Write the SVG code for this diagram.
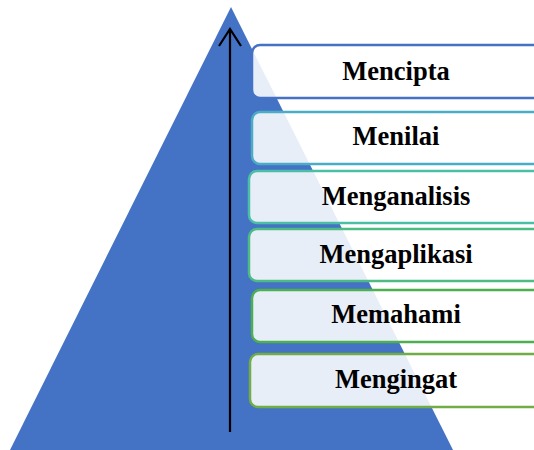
<svg xmlns="http://www.w3.org/2000/svg" width="534" height="450" viewBox="0 0 534 450">
<defs>
<style>
.box{fill:#ffffff;fill-opacity:0.88;stroke-width:2.5}
.lbl{font-family:"Liberation Serif","Times New Roman",serif;font-weight:bold;font-size:26.5px;fill:#000;text-anchor:middle}
</style>
<marker id="arr" viewBox="0 0 20 24" refX="18" refY="12" markerWidth="20" markerHeight="24" markerUnits="userSpaceOnUse" orient="auto">
<path d="M1,1 L18,12 L1,23" fill="none" stroke="#000" stroke-width="2.2"/>
</marker>
</defs>
<g id="pyramid"><polygon points="231,7 10,450 453,450" fill="#4472C4"/></g>
<g id="connectors"><line x1="230" y1="432" x2="230" y2="29" stroke="#000" stroke-width="2.2" marker-end="url(#arr)"/></g>
<g id="mencipta"><rect class="box" x="252" y="45" width="300" height="53" rx="8" stroke="#4472C4"/><text class="lbl" x="396" y="80">Mencipta</text></g>
<g id="menilai"><rect class="box" x="252" y="112" width="300" height="52" rx="8" stroke="#4BACC6"/><text class="lbl" x="396" y="145">Menilai</text></g>
<g id="menganalisis"><rect class="box" x="249" y="171" width="300" height="52" rx="8" stroke="#4BBFA6"/><text class="lbl" x="396" y="205">Menganalisis</text></g>
<g id="mengaplikasi"><rect class="box" x="249" y="229" width="300" height="52" rx="8" stroke="#4CBB84"/><text class="lbl" x="396" y="263">Mengaplikasi</text></g>
<g id="memahami"><rect class="box" x="252" y="290" width="300" height="52" rx="8" stroke="#4CAF50"/><text class="lbl" x="396" y="323">Memahami</text></g>
<g id="mengingat"><rect class="box" x="250" y="354" width="300" height="53" rx="8" stroke="#70AD47"/><text class="lbl" x="396" y="388">Mengingat</text></g>
</svg>
